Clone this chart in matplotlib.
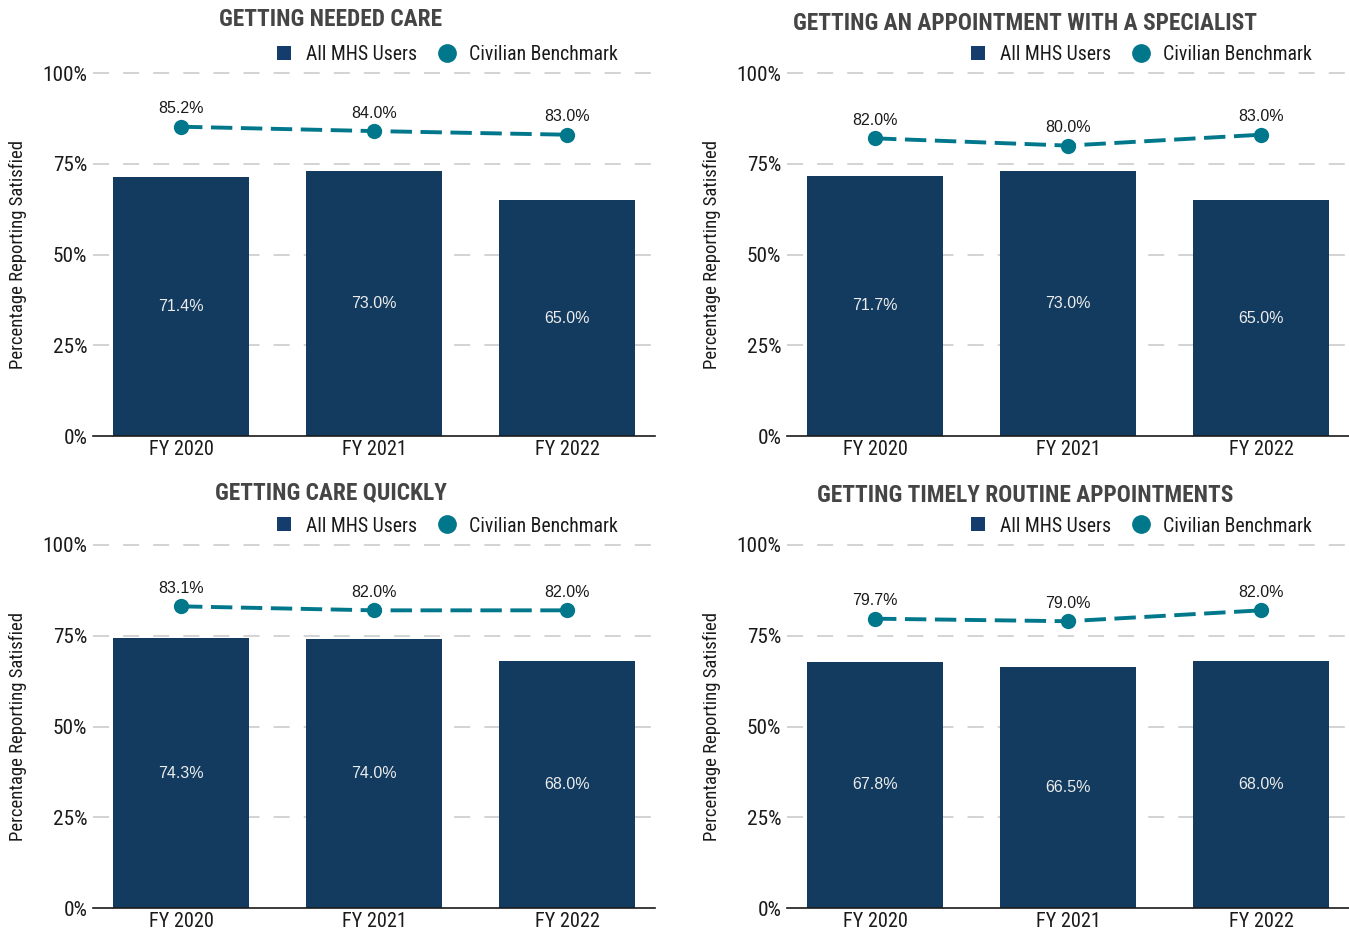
import matplotlib
matplotlib.use("Agg")
import matplotlib.pyplot as plt
from matplotlib import font_manager
from matplotlib.lines import Line2D

# ---- data -------------------------------------------------------------
years = ["FY 2020", "FY 2021", "FY 2022"]
titles = [
    "GETTING NEEDED CARE",
    "GETTING AN APPOINTMENT WITH A SPECIALIST",
    "GETTING CARE QUICKLY",
    "GETTING TIMELY ROUTINE APPOINTMENTS",
]
mhs_needed_care = [71.4, 73.0, 65.0]
bench_needed_care = [85.2, 84.0, 83.0]
mhs_specialist = [71.7, 73.0, 65.0]
bench_specialist = [82.0, 80.0, 83.0]
mhs_quickly = [74.3, 74.0, 68.0]
bench_quickly = [83.1, 82.0, 82.0]
mhs_routine = [67.8, 66.5, 68.0]
bench_routine = [79.7, 79.0, 82.0]
yticks = [0, 25, 50, 75, 100]
ytick_labels = ["0%", "25%", "50%", "75%", "100%"]
legend_labels = ["All MHS Users", "Civilian Benchmark"]
ylabel = "Percentage Reporting Satisfied"

# ---- styling ----------------------------------------------------------
installed = {f.name for f in font_manager.fontManager.ttflist}
narrow_candidates = ["Roboto Condensed", "Liberation Sans Narrow", "Open Sans Condensed", "Roboto"]
NARROW = next(n for n in narrow_candidates if n in installed or n == "Roboto")
REG = "Liberation Sans"
STRETCH = "condensed"
BAR = "#123b5f"
LEG_SQ = "#143d6d"
TEAL = "#00778b"
GRID = "#c8c8c8"
TITLE_C = "#454545"
INK = "#1a1a1a"

W, H = 1349, 932
fig = plt.figure(figsize=(W / 100, H / 100), dpi=100)


def fx(px):
    return px / W


def fy(py):
    return 1 - py / H


panels = [
    # axes left px, 100% line px, bars, benchmark, title, title y px, legend y px
    (93, 73, mhs_needed_care, bench_needed_care, titles[0], 19, 53),
    (787, 73, mhs_specialist, bench_specialist, titles[1], 22, 53),
    (93, 545, mhs_quickly, bench_quickly, titles[2], 492, 524),
    (787, 545, mhs_routine, bench_routine, titles[3], 495, 524),
]
AX_W, AX_H = 562, 363

for left, top, bars, bench, title, ty, ly in panels:
    ax = fig.add_axes([fx(left), fy(top + AX_H), AX_W / W, AX_H / H])
    x = range(len(years))
    ax.set_xlim(-0.456, 2.456)
    ax.set_ylim(0, 100)

    for yv in yticks[1:]:
        ax.axhline(yv, color=GRID, lw=1.1, ls=(0, (10.5, 9.2)), zorder=0, clip_on=False)

    ax.bar(x, bars, width=0.705, color=BAR, zorder=2)
    for xi, v in zip(x, bars):
        ax.text(xi, v / 2, f"{v:.1f}%", ha="center", va="center", color="#ececec",
                fontsize=11.5, family=REG, zorder=4)

    ax.plot(x, bench, color=TEAL, lw=2.8, ls=(0, (5.5, 2.2)), zorder=3,
            marker="o", markersize=11, markeredgewidth=0, clip_on=False)
    for xi, v in zip(x, bench):
        ax.annotate(f"{v:.1f}%", (xi, v), xytext=(0, 13), textcoords="offset points",
                    ha="center", va="center", fontsize=11.5, family=REG, color=INK)

    ax.set_yticks(yticks)
    ax.set_yticklabels(ytick_labels, family=NARROW, fontstretch=STRETCH,
                       fontsize=15.3, color=INK)
    ax.set_xticks(list(x))
    ax.set_xticklabels(years, family=NARROW, fontstretch=STRETCH,
                       fontsize=14.6, color=INK)
    ax.tick_params(axis="both", length=0)
    ax.tick_params(axis="y", pad=4)
    ax.tick_params(axis="x", pad=3)
    for s in ("top", "right", "left"):
        ax.spines[s].set_visible(False)
    ax.spines["bottom"].set_color(INK)
    ax.spines["bottom"].set_linewidth(1.2)

    fig.text(fx(left - 75), fy(top + AX_H / 2), ylabel, rotation=90, ha="center",
             va="center", family=NARROW, fontstretch=STRETCH, fontsize=13.5,
             color=INK)

    fig.text(fx(left + AX_W / 2 - 43), fy(ty + 1), title, ha="center", va="center",
             family=NARROW, fontstretch=STRETCH, fontweight="bold", fontsize=16.8,
             color=TITLE_C)

    # legend row
    sq_x = left + 191
    fig.add_artist(Line2D([fx(sq_x)], [fy(ly)], marker="s", markersize=10.5,
                          color=LEG_SQ, markeredgewidth=0, ls="none"))
    fig.text(fx(sq_x + 22), fy(ly + 2), legend_labels[0], ha="left", va="center",
             family=NARROW, fontstretch=STRETCH, fontsize=14.2, color=INK)
    ci_x = left + 354
    fig.add_artist(Line2D([fx(ci_x)], [fy(ly)], marker="o", markersize=13.5,
                          color=TEAL, markeredgewidth=0, ls="none"))
    fig.text(fx(ci_x + 22), fy(ly + 2), legend_labels[1], ha="left", va="center",
             family=NARROW, fontstretch=STRETCH, fontsize=14.2, color=INK)

fig.savefig("out.png", dpi=100)
